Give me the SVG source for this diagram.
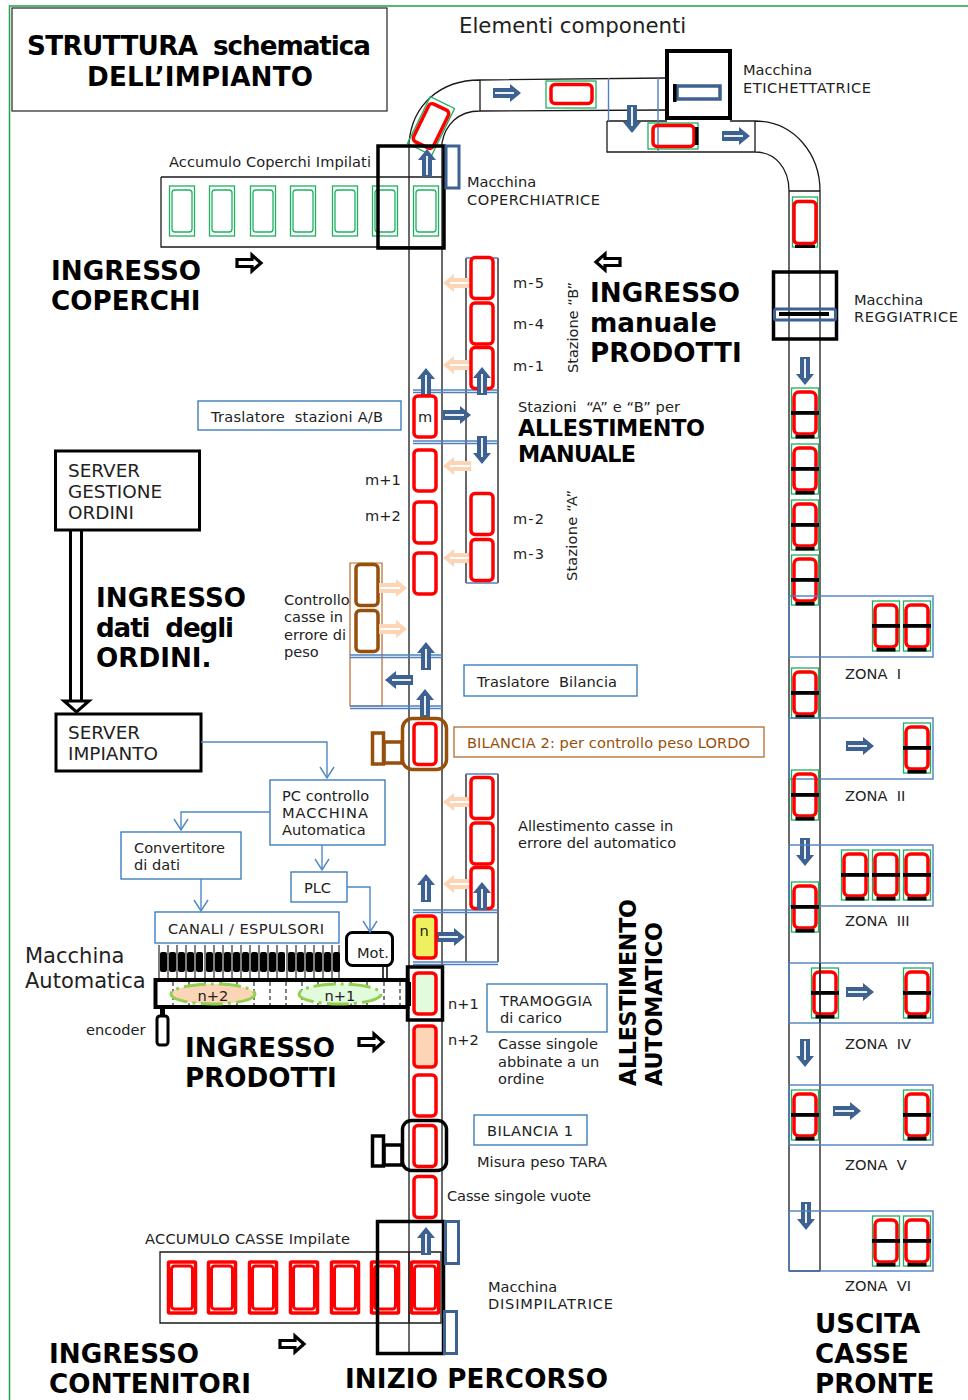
<svg xmlns="http://www.w3.org/2000/svg" width="968" height="1400" viewBox="0 0 968 1400">
<style>
text{font-family:"DejaVu Sans",Verdana,sans-serif;fill:#222;white-space:pre}
.t{font-size:14.6px}
.s{font-size:18.4px}
.b{font-size:26.2px;font-weight:bold;fill:#000}
.c{font-size:22.300px;font-weight:bold;fill:#000}
.ln{fill:none;stroke:#1a1a1a;stroke-width:1.300}
.bl{fill:#fff;stroke:#2e75b6;stroke-width:1.300}
.tb{fill:none;stroke:#4f81bd;stroke-width:1.400}
.th{fill:none;stroke:#000;stroke-width:3.500}
.red{fill:#fff;stroke:#f00;stroke-width:3.500}
.rn{fill:none;stroke:#f00;stroke-width:3.500}
.gr{fill:none;stroke:#1fb060;stroke-width:1.300}
.blu{fill:#fff;stroke:#3d6191;stroke-width:3.500}
.brn{fill:none;stroke:#974f0c;stroke-width:3.500}
.conn{fill:none;stroke:#4f88c4;stroke-width:1.400}
</style>
<defs>
<marker id="oa" markerWidth="16" markerHeight="16" refX="13" refY="8" orient="auto" markerUnits="userSpaceOnUse"><path d="M2,1L13,8L2,15" fill="none" stroke="#4f88c4" stroke-width="1.400"/></marker>
<g id="ab"><path d="M-14,-5H3V-9L14,0L3,9V5H-14Z" fill="#3d6191"/><path d="M-12,0H7" stroke="#fff" stroke-width="1.800"/></g>
<g id="ap"><path d="M-14,-5H3V-9L14,0L3,9V5H-14Z" fill="#fbd5b5"/><path d="M-13,0H7" stroke="#fff" stroke-width="2"/></g>
<g id="ak"><path d="M-12,-3.500H3V-8L12,0L3,8V3.500H-12Z" fill="#fff" stroke="#000" stroke-width="3.200"/></g>
<g id="cg"><rect x="-12.500" y="-25" width="25" height="50" class="gr"/><rect x="-10" y="-21" width="20" height="42" rx="3" class="gr"/></g>
<g id="cr"><rect x="-11" y="-20.500" width="22" height="41" rx="4" class="red"/></g>
<g id="cb"><rect x="-11" y="-20.500" width="22" height="41" rx="4" fill="#fff" stroke="#974f0c" stroke-width="3.500"/></g>
<g id="ct"><rect x="-13.500" y="-25" width="27" height="50" class="gr"/><rect x="-11" y="-21" width="22" height="42" rx="5" class="rn"/><rect x="-14" y="-2" width="28" height="3.800"/><rect x="-9.500" y="22" width="19" height="3.500"/></g>
<g id="st"><rect x="-13.500" y="-25" width="27" height="51" rx="1" class="rn"/><rect x="-10.500" y="-21" width="21" height="43" rx="3" class="rn" style="stroke-width:3"/></g>
</defs>

<rect width="968" height="1400" fill="#fff"/>
<path d="M9.500,1400V6H968" fill="none" stroke="#20a050" stroke-width="1.500"/>

<g id="title"><rect x="12" y="8" width="375" height="103" fill="#fff" stroke="#222" stroke-width="1.200"/>
<text class="b" x="27" y="55" textLength="171">STRUTTURA</text><text class="b" x="213" y="55" textLength="158">schematica</text><text class="b" x="87" y="86" textLength="226">DELL’IMPIANTO</text></g>
<text id="heading" x="459" y="33" style="font-size:21.300px">Elementi componenti</text>

<g id="conveyor-main">
<path class="ln" d="M409,1354V143C412,105 440,80 480,80L666,78M442,1222V143C445,125 458,111 480,111L667,110M480,80V111"/>
<path class="ln" d="M607,121H667M730,121H755C795,121 820,155 820,191V1271M607,121V152H755C775,152 789,168 789,191V1271M755,121V152M789,191H820M789,1271H820"/>
<path class="tb" d="M608.500,78V121M658,78V152"/>
</g>

<g id="etichettatrice">
<rect x="667" y="51" width="63" height="67" fill="#fff" stroke="#000" stroke-width="4"/>
<rect x="677" y="86" width="43" height="13" class="blu"/><rect x="673" y="84" width="3.500" height="18"/>
<text class="t" x="743" y="75">Macchina</text><text class="t" x="743" y="93" textLength="128">ETICHETTATRICE</text>
</g>
<g id="nastro-alto">
<use href="#ab" transform="translate(507,93)"/>
<rect x="546" y="81" width="50" height="27" class="gr"/><rect x="551" y="84.500" width="41" height="19" rx="4" class="rn"/>
<use href="#ab" transform="translate(632,119) rotate(90)"/>
<rect x="648" y="123" width="50" height="26" class="gr"/><rect x="653" y="125.500" width="41" height="21" rx="4" class="rn"/><rect x="695" y="127" width="3.500" height="18"/>
<use href="#ab" transform="translate(736,136)"/>
<rect x="417.500" y="100" width="27" height="52" transform="rotate(26 431 126)" class="gr"/>
<rect x="420" y="105" width="22" height="42" rx="4" transform="rotate(26 431 126)" class="rn"/>
</g>

<g id="coperchiatrice">
<path class="ln" d="M161,177H442M161,177V247H442"/>
<use href="#cg" transform="translate(182,211)"/><use href="#cg" transform="translate(222,211)"/><use href="#cg" transform="translate(263,211)"/><use href="#cg" transform="translate(303,211)"/><use href="#cg" transform="translate(345,211)"/><use href="#cg" transform="translate(385,211)"/><use href="#cg" transform="translate(426,211)"/>
<rect x="378" y="146" width="66" height="102" class="th"/>
<rect x="446" y="146" width="13" height="42" class="blu" style="stroke-width:3"/>
<use href="#ab" transform="translate(427,163) rotate(-90)"/>
<text class="t" x="169" y="167" textLength="202">Accumulo Coperchi Impilati</text>
<text class="t" x="467" y="187">Macchina</text><text class="t" x="467" y="205" textLength="133">COPERCHIATRICE</text>
</g>
<g id="ingresso-coperchi"><text class="b" x="51" y="280">INGRESSO</text><text class="b" x="51" y="310">COPERCHI</text><use href="#ak" transform="translate(249,263)"/></g>

<g id="stazioni">
<path class="ln" d="M466,258V583M498,258V583"/>
<path class="tb" d="M466,258H498M466,583H498M413,390H498M413,392.500H498M413,441H498M413,443.500H498"/>
<use href="#ap" transform="translate(457,283) rotate(180)"/><use href="#ap" transform="translate(457,365) rotate(180)"/><use href="#ap" transform="translate(457,466) rotate(180)"/><use href="#ap" transform="translate(457,558) rotate(180)"/>
<use href="#cr" transform="translate(482,278)"/><use href="#cr" transform="translate(482,323.500)"/><use href="#cr" transform="translate(482,368)"/><use href="#cr" transform="translate(482,514)"/><use href="#cr" transform="translate(482,560)"/>
<use href="#ab" transform="translate(426,382) rotate(-90)"/><use href="#ab" transform="translate(482,381) rotate(-90)"/>
<use href="#ab" transform="translate(457,415)"/><use href="#ab" transform="translate(482,450) rotate(90)"/>
<use href="#cr" transform="translate(425,416.500)"/><text class="t" x="425" y="422" text-anchor="middle">m</text>
<use href="#cr" transform="translate(425,470.500)"/><use href="#cr" transform="translate(425,522.500)"/><use href="#cr" transform="translate(425,573.500)"/>
<text class="t" x="513" y="288" textLength="31">m-5</text><text class="t" x="513" y="329" textLength="31">m-4</text><text class="t" x="513" y="371" textLength="31">m-1</text><text class="t" x="513" y="524" textLength="31">m-2</text><text class="t" x="513" y="559" textLength="31">m-3</text>
<text class="t" x="365" y="485">m+1</text><text class="t" x="365" y="521">m+2</text>
<text class="t" transform="translate(578,373) rotate(-90)" textLength="91">Stazione “B”</text><text class="t" transform="translate(577,581) rotate(-90)" textLength="91">Stazione “A”</text>
<text class="t" x="518" y="412" textLength="162">Stazioni  “A” e “B” per</text><text class="c" x="518" y="436" textLength="187">ALLESTIMENTO</text><text class="c" x="518" y="462" textLength="118">MANUALE</text>
</g>
<g id="traslatore-ab"><rect x="198" y="401" width="203" height="29" class="bl"/><text class="t" x="211" y="422" textLength="172">Traslatore  stazioni A/B</text></g>
<g id="ingresso-manuale"><use href="#ak" transform="translate(608,262) rotate(180)"/><text class="b" x="590" y="302">INGRESSO</text><text class="b" x="590" y="332">manuale</text><text class="b" x="590" y="362">PRODOTTI</text></g>

<g id="server-gestione"><rect x="55.500" y="451" width="144" height="79" fill="#fff" stroke="#000" stroke-width="3"/><text class="s" x="68" y="477">SERVER</text><text class="s" x="68" y="498">GESTIONE</text><text class="s" x="68" y="519">ORDINI</text></g>
<g id="ingresso-dati"><text class="b" x="96" y="607">INGRESSO</text><text class="b" x="96" y="637" textLength="138">dati  degli</text><text class="b" x="96" y="667">ORDINI.</text></g>
<g id="server-impianto"><rect x="56" y="714" width="145" height="57" fill="#fff" stroke="#000" stroke-width="3"/><text class="s" x="68" y="739">SERVER</text><text class="s" x="68" y="760">IMPIANTO</text></g>

<g id="controllo-peso">
<path d="M350,563H382V706H350ZM382,656V706" fill="none" stroke="#b46a2c" stroke-width="1.200"/>
<path class="tb" d="M350,655H442M350,657.500H442M350,706H442M350,708.500H442"/>
<use href="#cb" transform="translate(367,585)"/><use href="#cb" transform="translate(367,631)"/>
<use href="#ap" transform="translate(393,588)"/><use href="#ap" transform="translate(393,629)"/>
<use href="#ab" transform="translate(426,656) rotate(-90)"/><use href="#ab" transform="translate(399,680) rotate(180)"/><use href="#ab" transform="translate(425,703) rotate(-90)"/>
<text class="t" x="284" y="605">Controllo</text><text class="t" x="284" y="622">casse in</text><text class="t" x="284" y="640">errore di</text><text class="t" x="284" y="657">peso</text>
</g>
<g id="traslatore-bilancia"><rect x="464" y="665" width="173" height="31" class="bl"/><text class="t" x="477" y="687" textLength="140">Traslatore  Bilancia</text></g>
<g id="bilancia-2">
<rect x="402.500" y="718.500" width="44" height="51" rx="10" fill="#fff" class="brn"/>
<rect x="372.500" y="733" width="11" height="31" class="brn"/><rect x="384" y="742" width="18" height="21" class="brn"/>
<use href="#cr" transform="translate(425,744)"/>
<rect x="454" y="727" width="310" height="30" fill="#fff" stroke="#b46a2c" stroke-width="1.300"/><text class="t" x="467" y="748" style="fill:#974f0c" textLength="283">BILANCIA 2: per controllo peso LORDO</text>
</g>

<g id="allestimento-auto">
<path class="ln" d="M466,774V962M498,774V962"/><path class="tb" d="M466,774H498M413,910H498M413,912.500H498M413,962H498M413,964.500H498"/>
<use href="#ap" transform="translate(457,802) rotate(180)"/><use href="#ap" transform="translate(457,884) rotate(180)"/>
<use href="#cr" transform="translate(482,798)"/><use href="#cr" transform="translate(482,843.500)"/><use href="#cr" transform="translate(482,888)"/>
<use href="#ab" transform="translate(426,888) rotate(-90)"/><use href="#ab" transform="translate(482,896) rotate(-90)"/><use href="#ab" transform="translate(451,937)"/>
<rect x="414" y="916" width="22" height="42" rx="4" fill="#eef060" stroke="#f00" stroke-width="3.500"/><text class="t" x="424" y="936" text-anchor="middle">n</text>
<text class="t" x="518" y="831">Allestimento casse in</text><text class="t" x="518" y="848">errore del automatico</text>
<text class="c" transform="translate(636,1086) rotate(-90)" textLength="187">ALLESTIMENTO</text><text class="c" transform="translate(662,1086) rotate(-90)" textLength="164">AUTOMATICO</text>
</g>

<g id="convertitore"><rect x="121" y="832" width="120" height="47" class="bl"/><text class="t" x="134" y="853">Convertitore</text><text class="t" x="134" y="870">di dati</text></g>
<g id="pc-controllo"><rect x="270" y="780" width="115" height="65" class="bl"/><text class="t" x="282" y="801">PC controllo</text><text class="t" x="282" y="818" textLength="86">MACCHINA</text><text class="t" x="282" y="835">Automatica</text></g>
<g id="plc"><rect x="291" y="872" width="56" height="30" class="bl"/><text class="t" x="304" y="893" textLength="27">PLC</text></g>
<g id="canali"><rect x="155" y="912" width="184" height="31" class="bl"/><text class="t" x="168" y="934" textLength="156">CANALI / ESPULSORI</text></g>

<g id="macchina-automatica">
<path d="M159,945V980M168,945V980M177,945V980M186,945V980M195,945V980M205,945V980M214,945V980M223,945V980M232,945V980M241,945V980M250,945V980M259,945V980M268,945V980M277,945V980M287,945V980M296,945V980M305,945V980M314,945V980M323,945V980M332,945V980M339,945V980" stroke="#000" stroke-width="1"/>
<g fill="#000"><rect x="160" y="952" width="7" height="20" rx="2"/><rect x="169" y="952" width="7" height="20" rx="2"/><rect x="178" y="952" width="7" height="20" rx="2"/><rect x="187" y="952" width="7" height="20" rx="2"/><rect x="196" y="952" width="7" height="20" rx="2"/><rect x="206" y="952" width="7" height="20" rx="2"/><rect x="215" y="952" width="7" height="20" rx="2"/><rect x="224" y="952" width="7" height="20" rx="2"/><rect x="233" y="952" width="7" height="20" rx="2"/><rect x="242" y="952" width="7" height="20" rx="2"/><rect x="251" y="952" width="7" height="20" rx="2"/><rect x="260" y="952" width="7" height="20" rx="2"/><rect x="269" y="952" width="7" height="20" rx="2"/><rect x="278" y="952" width="7" height="20" rx="2"/><rect x="288" y="952" width="7" height="20" rx="2"/><rect x="297" y="952" width="7" height="20" rx="2"/><rect x="306" y="952" width="7" height="20" rx="2"/><rect x="315" y="952" width="7" height="20" rx="2"/><rect x="324" y="952" width="7" height="20" rx="2"/><rect x="333" y="952" width="7" height="20" rx="2"/></g>
<rect x="155.500" y="980" width="252" height="27" fill="#fff" stroke="#000" stroke-width="4"/>
<path d="M173,982V1005M189,982V1005M205,982V1005M221,982V1005M237,982V1005M254,982V1005M270,982V1005M286,982V1005M302,982V1005M318,982V1005M335,982V1005M351,982V1005M367,982V1005M384,982V1005M400,982V1005" stroke="#000" stroke-width="1" stroke-dasharray="4 3"/>
<ellipse cx="213" cy="994" rx="42" ry="10" fill="#fbd5b5" stroke="#92d050" stroke-width="3" stroke-dasharray="22 5 3 5"/>
<ellipse cx="340" cy="994" rx="41" ry="10" fill="#e2fbdd" stroke="#92d050" stroke-width="3" stroke-dasharray="22 5 3 5"/>
<text class="t" x="213" y="1001" text-anchor="middle">n+2</text><text class="t" x="340" y="1001" text-anchor="middle">n+1</text>
<rect x="406" y="982" width="5" height="24"/>
<path d="M383,965V980M387,965V980" stroke="#000" stroke-width="1.500"/>
<rect x="346.500" y="932.500" width="46" height="33" rx="6" fill="#fff" stroke="#000" stroke-width="3"/><text class="t" x="357" y="958">Mot.</text>
<rect x="160" y="1007" width="5" height="9"/><rect x="157" y="1016" width="11" height="29" rx="3" fill="#fff" stroke="#000" stroke-width="3"/>
<text class="t" x="86" y="1035">encoder</text>
<text x="25" y="963" style="font-size:21px">Macchina</text><text x="25" y="988" style="font-size:21px">Automatica</text>
</g>
<g id="ingresso-prodotti"><text class="b" x="185" y="1057">INGRESSO</text><text class="b" x="185" y="1087">PRODOTTI</text><use href="#ak" transform="translate(371,1042)"/></g>

<g id="tramoggia">
<rect x="414" y="973" width="22" height="41" rx="4" fill="#e2fbdd" stroke="#f00" stroke-width="3.500"/>
<rect x="407.500" y="967" width="35" height="53" class="th"/>
<rect x="414" y="1026" width="22" height="41" rx="4" fill="#fbd5b5" stroke="#f00" stroke-width="3.500"/>
<use href="#cr" transform="translate(425,1095.500)"/>
<text class="t" x="448" y="1009">n+1</text><text class="t" x="448" y="1045">n+2</text>
<rect x="487" y="984" width="120" height="48" class="bl"/><text class="t" x="500" y="1006" textLength="92">TRAMOGGIA</text><text class="t" x="500" y="1023">di carico</text>
<text class="t" x="498" y="1049">Casse singole</text><text class="t" x="498" y="1067">abbinate a un</text><text class="t" x="498" y="1084">ordine</text>
</g>
<g id="bilancia-1">
<rect x="402.500" y="1120.500" width="44" height="50" rx="9" fill="#fff" class="th"/>
<rect x="372.500" y="1136" width="11" height="30" class="th"/><rect x="384" y="1145" width="18" height="20" class="th"/>
<use href="#cr" transform="translate(425,1146)"/><use href="#cr" transform="translate(425,1197)"/>
<rect x="474" y="1115" width="113" height="30" class="bl"/><text class="t" x="487" y="1136" textLength="86">BILANCIA 1</text>
<text class="t" x="477" y="1167" textLength="130">Misura peso TARA</text><text class="t" x="447" y="1201" textLength="144">Casse singole vuote</text>
</g>
<g id="disimpilatrice">
<path class="ln" d="M160,1252H441V1323H160ZM409,1252V1323"/>
<use href="#st" transform="translate(182,1287)"/><use href="#st" transform="translate(222,1287)"/><use href="#st" transform="translate(263,1287)"/><use href="#st" transform="translate(304,1287)"/><use href="#st" transform="translate(345,1287)"/><use href="#st" transform="translate(385,1287)"/><use href="#st" transform="translate(425,1287)"/>
<rect x="377.500" y="1221.500" width="66" height="132" class="th"/>
<rect x="445.500" y="1221.500" width="13" height="42" class="blu" style="stroke-width:3"/><rect x="444.500" y="1311.500" width="12" height="42" class="blu" style="stroke-width:3"/>
<use href="#ab" transform="translate(426,1241) rotate(-90)"/>
<text class="t" x="145" y="1244" textLength="205">ACCUMULO CASSE Impilate</text>
<text class="t" x="488" y="1292">Macchina</text><text class="t" x="488" y="1309" textLength="125">DISIMPILATRICE</text>
</g>
<g id="ingresso-contenitori"><text class="b" x="49" y="1363">INGRESSO</text><text class="b" x="49" y="1393" textLength="202">CONTENITORI</text><use href="#ak" transform="translate(292,1344)"/></g>
<text id="inizio" class="b" x="345" y="1388" textLength="263">INIZIO PERCORSO</text>
<g id="uscita"><text class="b" x="815" y="1333">USCITA</text><text class="b" x="815" y="1363">CASSE</text><text class="b" x="815" y="1393">PRONTE</text></g>

<g id="reggiatrice">
<use href="#cg" transform="translate(805,222)"/><rect x="794" y="201.500" width="22" height="42" rx="4" class="red"/><rect x="795" y="245" width="20" height="3"/>
<rect x="773.500" y="272" width="63" height="67" fill="none" stroke="#000" stroke-width="3.500"/>
<rect x="774.500" y="309" width="61" height="11" rx="2" fill="none" stroke="#3d6191" stroke-width="3"/><rect x="779" y="312" width="50" height="4"/>
<text class="t" x="854" y="305">Macchina</text><text class="t" x="854" y="322" textLength="104">REGGIATRICE</text>
<use href="#ab" transform="translate(805,371) rotate(90)"/>
<use href="#ct" transform="translate(805,413)"/><use href="#ct" transform="translate(805,469)"/><use href="#ct" transform="translate(805,525)"/><use href="#ct" transform="translate(805,580)"/>
</g>
<g id="zona-1"><rect x="789" y="596" width="144" height="61" class="tb"/><use href="#ct" transform="translate(886,626)"/><use href="#ct" transform="translate(917,626)"/><text class="t" x="845" y="679">ZONA  I</text><use href="#ct" transform="translate(805,693)"/></g>
<g id="zona-2"><rect x="789" y="718" width="144" height="61" class="tb"/><use href="#ab" transform="translate(860,746)"/><use href="#ct" transform="translate(917,748)"/><use href="#ct" transform="translate(805,795)"/><text class="t" x="845" y="801">ZONA  II</text><use href="#ab" transform="translate(805,852) rotate(90)"/></g>
<g id="zona-3"><rect x="789" y="845" width="144" height="61" class="tb"/><use href="#ct" transform="translate(855,875)"/><use href="#ct" transform="translate(886,875)"/><use href="#ct" transform="translate(917,875)"/><use href="#ct" transform="translate(805,907)"/><text class="t" x="845" y="926">ZONA  III</text></g>
<g id="zona-4"><rect x="789" y="963" width="144" height="60" class="tb"/><use href="#ct" transform="translate(825,993)"/><path class="ln" d="M820,963V1023"/><use href="#ab" transform="translate(860,992)"/><use href="#ct" transform="translate(917,993)"/><text class="t" x="845" y="1049">ZONA  IV</text><use href="#ab" transform="translate(805,1053) rotate(90)"/></g>
<g id="zona-5"><rect x="789" y="1085" width="144" height="60" class="tb"/><use href="#ct" transform="translate(805,1115)"/><use href="#ab" transform="translate(847,1111)"/><use href="#ct" transform="translate(917,1115)"/><text class="t" x="845" y="1170">ZONA  V</text><use href="#ab" transform="translate(806,1216) rotate(90)"/></g>
<g id="zona-6"><rect x="789" y="1211" width="144" height="60" class="tb"/><use href="#ct" transform="translate(886,1241)"/><use href="#ct" transform="translate(917,1241)"/><text class="t" x="845" y="1291">ZONA  VI</text></g>

<g id="connectors">
<path class="conn" d="M201,742H327V778" marker-end="url(#oa)"/>
<path class="conn" d="M270,812H181V830" marker-end="url(#oa)"/>
<path class="conn" d="M201,879V911" marker-end="url(#oa)"/>
<path class="conn" d="M322,845V870" marker-end="url(#oa)"/>
<path class="conn" d="M347,887H370V932" marker-end="url(#oa)"/>
<path d="M70.500,530V700M81.500,530V700" fill="none" stroke="#000" stroke-width="3"/>
<path d="M64,701H89L76.500,712Z" fill="#fff" stroke="#000" stroke-width="3"/>
</g>
</svg>
